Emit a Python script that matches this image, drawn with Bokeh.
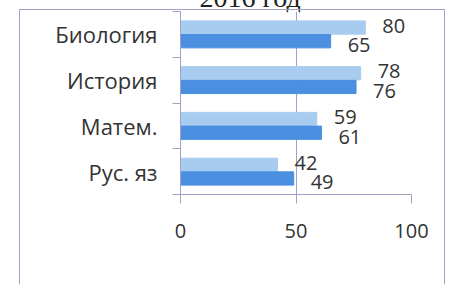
from bokeh.plotting import figure
from bokeh.models import (Range1d, FixedTicker, ColumnDataSource, LabelSet, Legend,
                          LegendItem, InlineStyleSheet)
from bokeh.transform import dodge
from bokeh.embed import file_html
from bokeh.resources import INLINE
from bokeh.core.properties import value

title = "2016 год"
categories = ["Биология", "История", "Матем.", "Рус. яз"]
urai = [80, 78, 59, 42]
hmao = [65, 76, 61, 49]
series_names = ["Урай", "ХМАО-Югра"]
x_ticks = [0, 50, 100]

n = len(categories)
pos = [n - 0.5 - i for i in range(n)]
src = ColumnDataSource(dict(cat=categories, pos=pos, urai=urai, hmao=hmao,
                            urai_t=[str(v) for v in urai], hmao_t=[str(v) for v in hmao]))

FONT = "Open Sans"
LINE = "#a0a0c8"
LIGHT = "#a8ccf0"
DARK = "#4a8fe0"
TXT = "#333333"

TOP = 50      # top panel (title) height; canvas is shifted up so frame top lands at y=11
SHIFT = TOP - 11

frame_css = InlineStyleSheet(css=f"""
:host {{ position: relative; }}
:host::after {{ content: ""; position: absolute; left: 19px; top: {9 + SHIFT}px; right: 9px; bottom: 0px;
  border-left: 1.5px solid {LINE}; border-top: 1.5px solid {LINE}; border-right: 1.5px solid {LINE};
  pointer-events: none; box-sizing: border-box; }}
""")

p = figure(frame_width=231, frame_height=183, x_range=Range1d(0, 100), y_range=Range1d(0, n),
           output_backend="svg", toolbar_location=None, title=title,
           min_border_left=180, min_border_right=43, min_border_top=TOP, min_border_bottom=0,
           margin=(-SHIFT, 0, 0, 0), stylesheets=[frame_css])
p.outline_line_color = None
p.background_fill_color = "white"
p.border_fill_color = "white"

p.title.align = "left"
p.title.offset = 19
p.title.standoff = -3
p.title.vertical_align = "bottom"
p.title.text_font = "Liberation Serif"
p.title.text_font_size = "28px"
p.title.text_font_style = "normal"
p.title.text_color = "#222222"

# x axis
xa = p.xaxis[0]
xa.ticker = FixedTicker(ticks=x_ticks)
xa.major_tick_out = 9
xa.major_tick_in = 0
xa.minor_tick_line_color = None
xa.axis_line_color = LINE
xa.major_tick_line_color = LINE
xa.major_label_standoff = 20
xa.major_label_text_font = FONT
xa.major_label_text_font_size = "20px"
xa.major_label_text_color = TXT

# y axis
ya = p.yaxis[0]
ya.ticker = FixedTicker(ticks=pos, minor_ticks=list(range(n + 1)))
ya.major_label_overrides = {pv: c for pv, c in zip(pos, categories)}
ya.major_tick_line_color = None
ya.major_tick_out = 0
ya.major_tick_in = 0
ya.minor_tick_out = 8
ya.minor_tick_in = 0
ya.minor_tick_line_color = LINE
ya.axis_line_color = LINE
ya.major_label_standoff = 15
ya.major_label_text_font = FONT
ya.major_label_text_font_size = "22px"
ya.major_label_text_color = TXT

p.xgrid.grid_line_color = LINE
p.ygrid.grid_line_color = None

r1 = p.hbar(y=dodge("pos", 0.15), left=0, right="urai", height=0.29, color=LIGHT, source=src)
r2 = p.hbar(y=dodge("pos", -0.15), left=0, right="hmao", height=0.29, color=DARK, source=src)

lab_kw = dict(text_baseline="middle", text_align="left", text_font=value(FONT),
              text_font_size="20px", text_color=TXT, x_offset=17, source=src)
p.add_layout(LabelSet(x="urai", y=dodge("pos", 0.15), text="urai_t", y_offset=2, **lab_kw))
p.add_layout(LabelSet(x="hmao", y=dodge("pos", -0.15), text="hmao_t", y_offset=-4, **lab_kw))

legend = Legend(items=[LegendItem(label=series_names[0], renderers=[r1]),
                       LegendItem(label=series_names[1], renderers=[r2])],
                location="center", orientation="horizontal",
                glyph_width=13, glyph_height=13, label_standoff=6, spacing=35,
                padding=0, margin=0, border_line_color=None, background_fill_alpha=0,
                label_text_font=FONT, label_text_font_size="22px", label_text_color=TXT)
p.add_layout(legend, "below")

open("out.html", "w").write(file_html(p, INLINE))
